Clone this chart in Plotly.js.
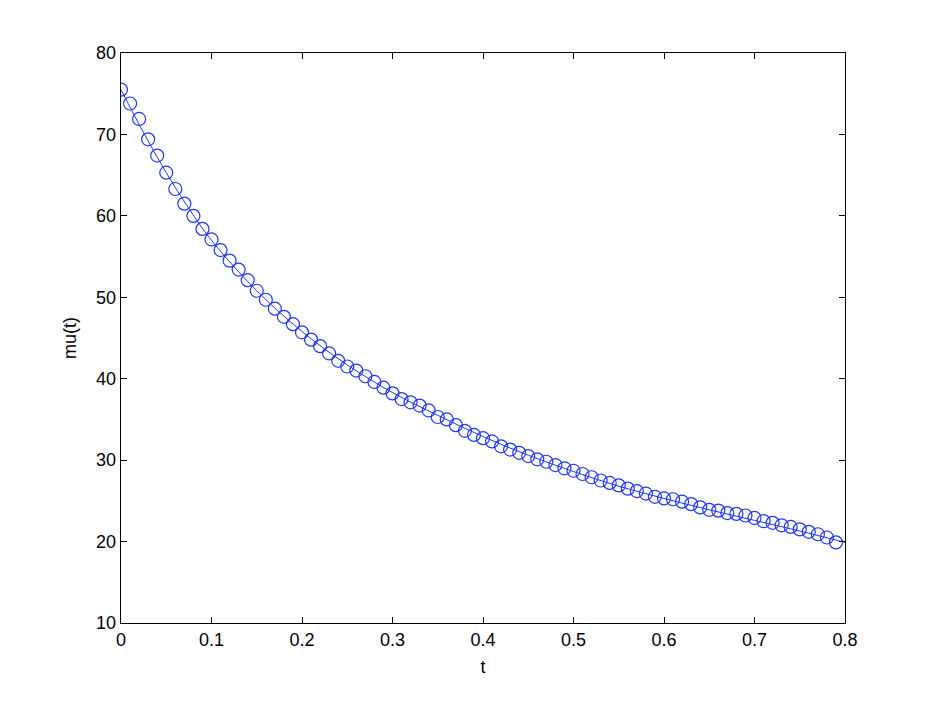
<!DOCTYPE html>
<html>
<head>
<meta charset="utf-8">
<script src="https://cdn.plot.ly/plotly-3.0.1.min.js"></script>
<style>html,body{margin:0;padding:0;background:#fff;}#chart{width:933px;height:702px;}</style>
</head>
<body>
<div id="chart"></div>
<script>
// Sample times (markers)
var t = [0,0.01,0.02,0.03,0.04,0.05,0.06,0.07,0.08,0.09,
         0.10,0.11,0.12,0.13,0.14,0.15,0.16,0.17,0.18,0.19,
         0.20,0.21,0.22,0.23,0.24,0.25,0.26,0.27,0.28,0.29,
         0.30,0.31,0.32,0.33,0.34,0.35,0.36,0.37,0.38,0.39,
         0.40,0.41,0.42,0.43,0.44,0.45,0.46,0.47,0.48,0.49,
         0.50,0.51,0.52,0.53,0.54,0.55,0.56,0.57,0.58,0.59,
         0.60,0.61,0.62,0.63,0.64,0.65,0.66,0.67,0.68,0.69,
         0.70,0.71,0.72,0.73,0.74,0.75,0.76,0.77,0.78,0.79];
// Observed mu(t) (circles)
var mu = [75.5,73.8,71.9,69.4,67.4,65.3,63.3,61.5,60.0,58.4,
          57.1,55.8,54.5,53.4,52.1,50.8,49.7,48.6,47.6,46.7,
          45.7,44.8,44.0,43.1,42.2,41.5,41.0,40.3,39.6,38.9,
          38.2,37.5,37.1,36.7,36.1,35.3,35.0,34.3,33.6,33.1,
          32.7,32.3,31.7,31.3,30.9,30.5,30.1,29.8,29.4,29.0,
          28.7,28.3,27.9,27.5,27.2,26.9,26.5,26.2,25.9,25.5,
          25.3,25.2,24.9,24.6,24.2,23.9,23.8,23.5,23.4,23.2,
          22.9,22.5,22.3,22.0,21.8,21.5,21.2,20.9,20.5,19.9];
// Fitted curve (line)
var tFit = [0,0.025,0.05,0.075,0.1,0.15,0.2,0.25,0.3,0.35,0.4,0.45,0.5,0.55,0.6,0.65,0.7,0.75,0.8];
var muFit = [75.5,70.2,65.3,60.9,57.0,50.8,45.8,41.7,38.3,35.5,32.9,30.6,28.6,26.8,25.3,23.9,22.6,21.3,19.9];

var xTicks = [0,0.1,0.2,0.3,0.4,0.5,0.6,0.7,0.8];
var xTickText = ['0','0.1','0.2','0.3','0.4','0.5','0.6','0.7','0.8'];
var yTicks = [10,20,30,40,50,60,70,80];

var blue = '#2038f5';
var fontFam = 'Liberation Sans, Arial, sans-serif';
var traces = [
  {x: tFit, y: muFit, mode: 'lines', line: {color: blue, width: 1, shape: 'spline'}, hoverinfo: 'skip'},
  {x: t, y: mu, mode: 'markers', marker: {symbol: 'circle-open', size: 13, color: blue, line: {width: 1.2, color: blue}}}
];

var axisCommon = {
  showline: true, linecolor: '#000', linewidth: 1.3, mirror: 'allticks',
  ticks: 'inside', ticklen: 6, tickcolor: '#000', tickwidth: 1,
  showgrid: false, zeroline: false,
  tickfont: {family: fontFam, size: 18, color: '#000'}
};

var layout = {
  width: 933, height: 702,
  margin: {l: 121, r: 88, t: 53, b: 79},
  paper_bgcolor: '#fff', plot_bgcolor: '#fff',
  showlegend: false,
  xaxis: Object.assign({}, axisCommon, {
    range: [0, 0.8], tickvals: xTicks, ticktext: xTickText,
    title: {text: 't', font: {family: fontFam, size: 18, color: '#000'}, standoff: 11}
  }),
  yaxis: Object.assign({}, axisCommon, {
    range: [10, 80], tickvals: yTicks,
    title: {text: 'mu(t)', font: {family: fontFam, size: 18, color: '#000'}, standoff: 14}
  })
};

Plotly.newPlot('chart', traces, layout, {displayModeBar: false, staticPlot: true});
</script>
</body>
</html>
